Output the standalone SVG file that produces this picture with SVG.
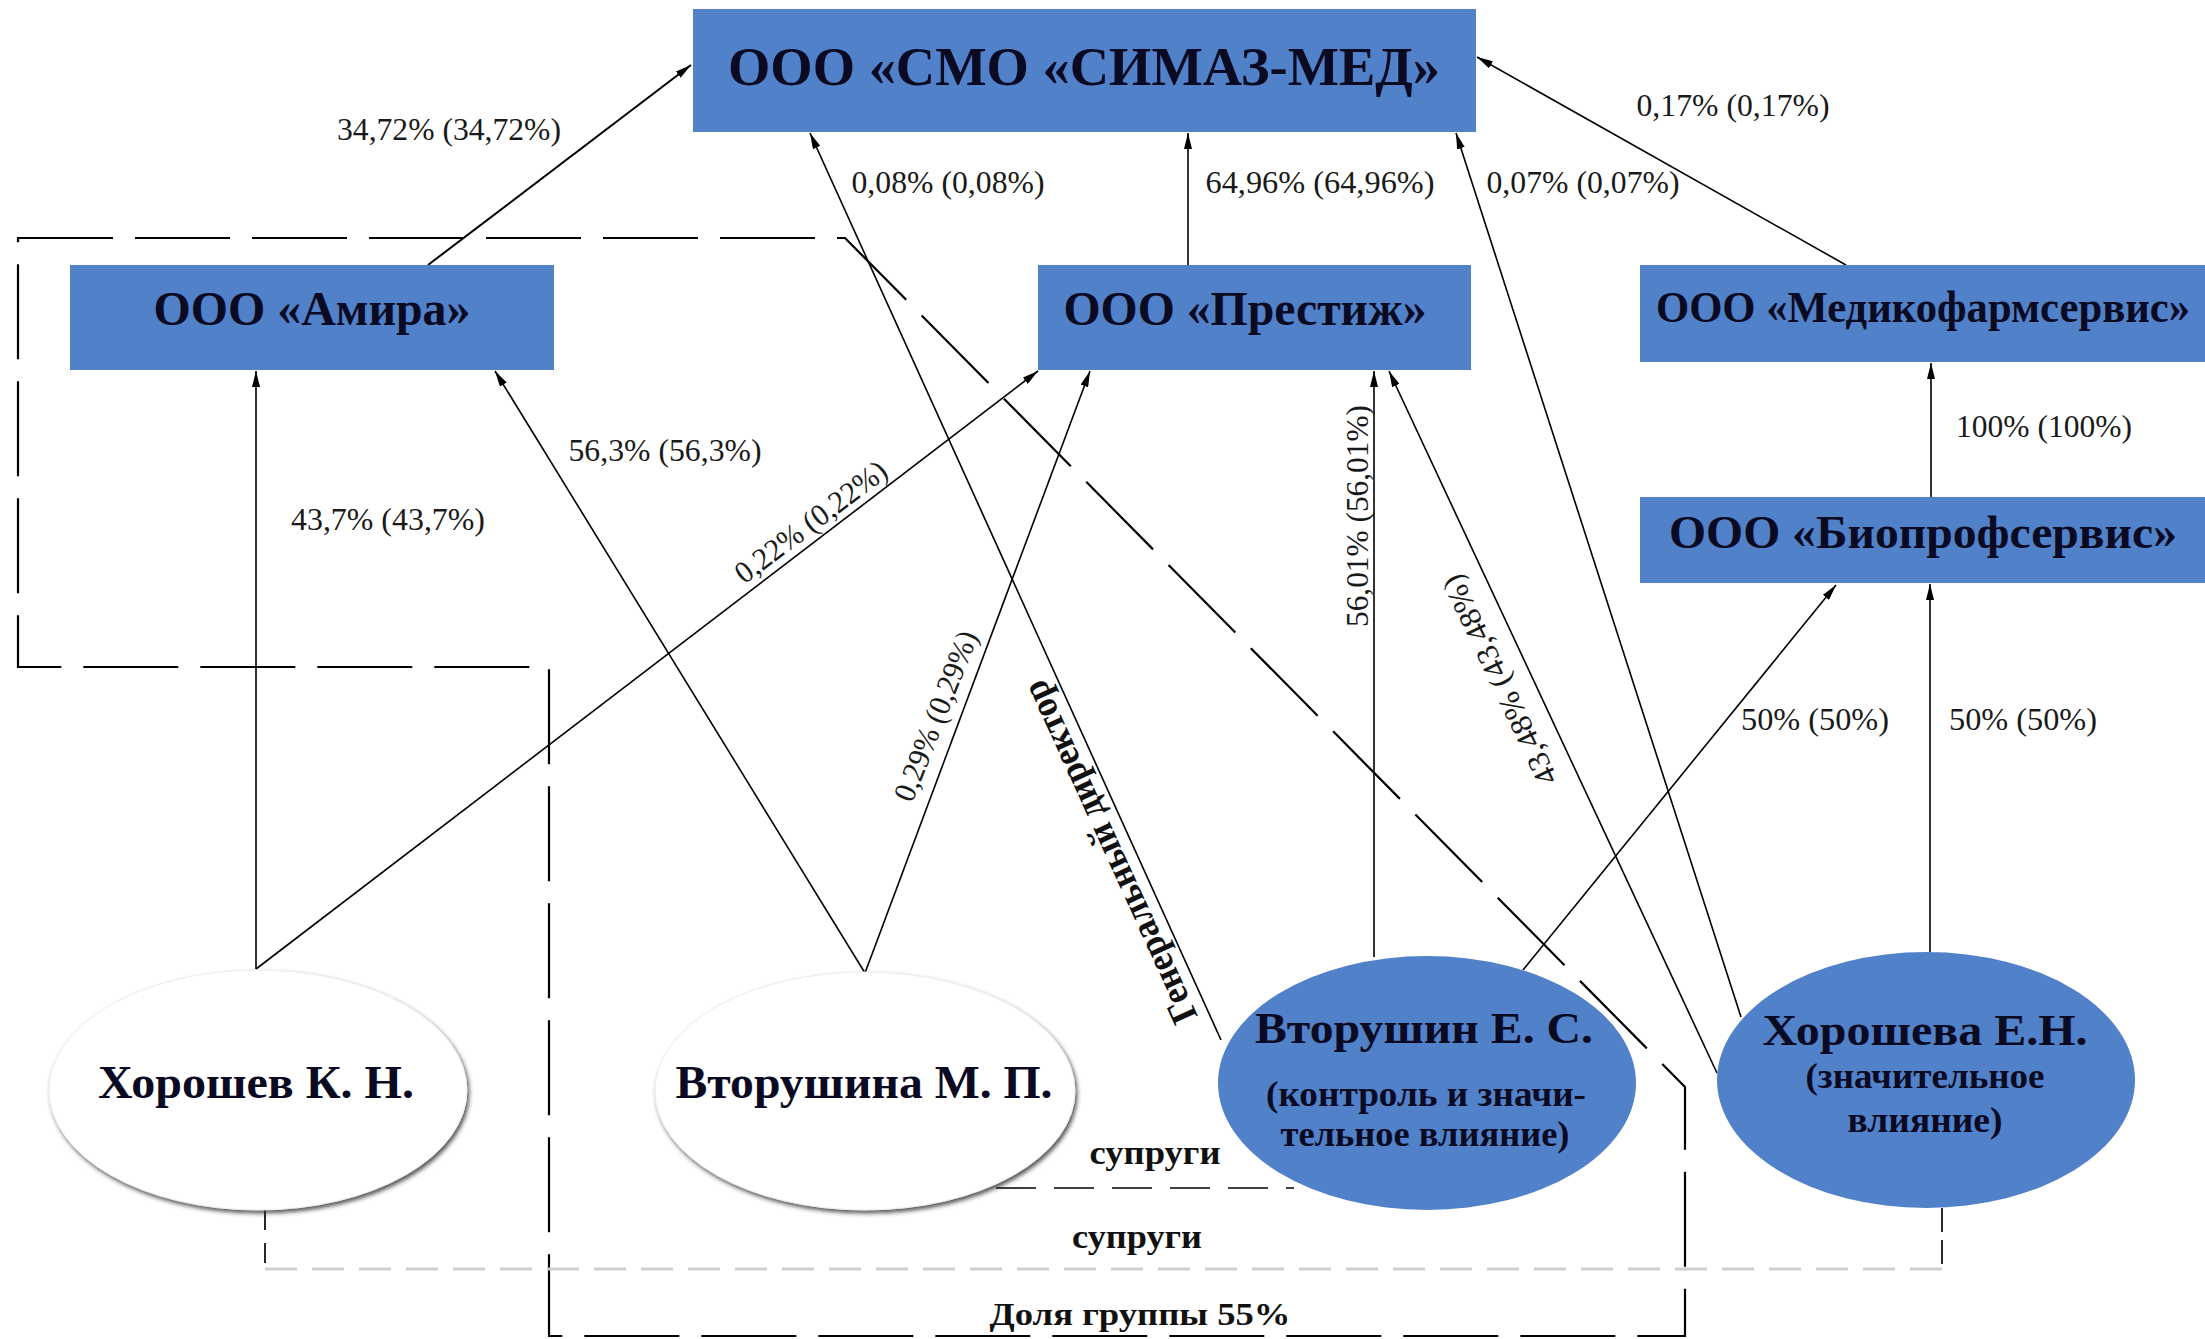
<svg xmlns="http://www.w3.org/2000/svg" width="2205" height="1339" viewBox="0 0 2205 1339">
<style>
.box{fill:#5181c9}
.bt{font-family:"Liberation Serif","Times New Roman",serif;font-weight:bold;fill:#0a0a22;text-anchor:middle}
.pt{font-family:"Liberation Serif","Times New Roman",serif;font-weight:bold;fill:#0a0a22;text-anchor:middle}
.lb{font-family:"Liberation Serif","Times New Roman",serif;fill:#1a1a1a;text-anchor:middle;font-size:31px}
.bl{font-family:"Liberation Serif","Times New Roman",serif;font-weight:bold;fill:#111;text-anchor:middle}
.ln{stroke:#000;stroke-width:1.6;fill:none}
.ar{marker-end:url(#ah)}
</style>
<defs>
<marker id="ah" markerUnits="userSpaceOnUse" viewBox="0 0 16 8" markerWidth="16" markerHeight="8" refX="16" refY="4" orient="auto">
<path d="M0,0 L16,4 L0,8 z" fill="#000"/>
</marker>
<filter id="sh" x="-10%" y="-10%" width="125%" height="130%">
<feDropShadow dx="2" dy="3" stdDeviation="2" flood-color="#333" flood-opacity="0.8"/>
</filter>
</defs>
<rect width="2205" height="1339" fill="#fff"/>

<g id="group-frame">
<path d="M18,238 H845 L1685,1087 V1336 H549 V667 H18 Z" fill="none" stroke="#000" stroke-width="2.2" stroke-dasharray="95 22"/>
</g>

<g id="connectors">
<line class="ln ar" x1="428" y1="265" x2="691" y2="65" style="stroke-width:2"/>
<line class="ln ar" x1="256" y1="969" x2="256" y2="371"/>
<line class="ln ar" x1="865" y1="973" x2="495" y2="371"/>
<line class="ln ar" x1="256" y1="969" x2="1038" y2="371"/>
<line class="ln ar" x1="865" y1="973" x2="1090" y2="371"/>
<line class="ln ar" x1="1221" y1="1040" x2="810" y2="133"/>
<line class="ln ar" x1="1374" y1="957" x2="1374" y2="371"/>
<line class="ln ar" x1="1717" y1="1073" x2="1389" y2="371"/>
<line class="ln ar" x1="1741" y1="1017" x2="1456" y2="133"/>
<line class="ln ar" x1="1523" y1="970" x2="1836" y2="585"/>
<line class="ln ar" x1="1930" y1="952" x2="1930" y2="584"/>
<line class="ln ar" x1="1931" y1="497" x2="1931" y2="363"/>
<line class="ln ar" x1="1846" y1="265" x2="1477" y2="57"/>
<line class="ln ar" x1="1188" y1="265" x2="1188" y2="133"/>
<line x1="996" y1="1188" x2="1294" y2="1188" stroke="#000" stroke-width="1.6" stroke-dasharray="40 18"/>
<path d="M265,1210 V1269" stroke="#111" stroke-width="1.8" stroke-dasharray="20 13" fill="none"/>
<path d="M265,1269 H1942" stroke="#cfcfcf" stroke-width="3" stroke-dasharray="32 15" fill="none"/>
<path d="M1942,1208 V1269" stroke="#111" stroke-width="1.8" stroke-dasharray="24 8" fill="none"/>
</g>

<g id="labels">
<text class="lb" x="449" y="140" textLength="224" lengthAdjust="spacingAndGlyphs">34,72% (34,72%)</text>
<text class="lb" x="948" y="193" textLength="193" lengthAdjust="spacingAndGlyphs">0,08% (0,08%)</text>
<text class="lb" x="1320" y="193" textLength="229" lengthAdjust="spacingAndGlyphs">64,96% (64,96%)</text>
<text class="lb" x="1583" y="193" textLength="193" lengthAdjust="spacingAndGlyphs">0,07% (0,07%)</text>
<text class="lb" x="1733" y="116" textLength="193" lengthAdjust="spacingAndGlyphs">0,17% (0,17%)</text>
<text class="lb" x="2044" y="437" textLength="176" lengthAdjust="spacingAndGlyphs">100% (100%)</text>
<text class="lb" x="665" y="461" textLength="193" lengthAdjust="spacingAndGlyphs">56,3% (56,3%)</text>
<text class="lb" x="388" y="530" textLength="194" lengthAdjust="spacingAndGlyphs">43,7% (43,7%)</text>
<text class="lb" x="1815" y="730" textLength="148" lengthAdjust="spacingAndGlyphs">50% (50%)</text>
<text class="lb" x="2023" y="730" textLength="148" lengthAdjust="spacingAndGlyphs">50% (50%)</text>
<text class="lb" x="811" y="532" transform="rotate(-37 811 522)" textLength="182" lengthAdjust="spacingAndGlyphs">0,22% (0,22%)</text>
<text class="lb" x="936" y="726" transform="rotate(-68.5 936 716)" textLength="180" lengthAdjust="spacingAndGlyphs">0,29% (0,29%)</text>
<text class="lb" x="1357" y="527" transform="rotate(-90 1357 516)" textLength="222" lengthAdjust="spacingAndGlyphs" style="font-size:32px">56,01% (56,01%)</text>
<text class="lb" x="1500" y="690" transform="rotate(-115.5 1500 680)" textLength="229" lengthAdjust="spacingAndGlyphs">43,48% (43,48%)</text>
<text class="bl" x="1110" y="864" transform="rotate(-114.5 1110 852)" textLength="372" lengthAdjust="spacingAndGlyphs" style="font-size:38px">Генеральный директор</text>
<text class="bl" x="1155" y="1164" textLength="131" lengthAdjust="spacingAndGlyphs" style="font-size:34px">супруги</text>
<text class="bl" x="1137" y="1248" textLength="130" lengthAdjust="spacingAndGlyphs" style="font-size:34px">супруги</text>
<text class="bl" x="1140" y="1325" textLength="301" lengthAdjust="spacingAndGlyphs" style="font-size:31px">Доля группы 55%</text>
</g>

<g id="node-simaz">
<rect class="box" x="693" y="9" width="783" height="123"/>
<text class="bt" x="1084" y="85" font-size="54" textLength="712" lengthAdjust="spacingAndGlyphs">ООО «СМО «СИМАЗ-МЕД»</text>
</g>
<g id="node-amira">
<rect class="box" x="70" y="265" width="484" height="105"/>
<text class="bt" x="312" y="325" font-size="48" textLength="317" lengthAdjust="spacingAndGlyphs">ООО «Амира»</text>
</g>
<g id="node-prestizh">
<rect class="box" x="1038" y="265" width="433" height="105"/>
<text class="bt" x="1245" y="325" font-size="48" textLength="363" lengthAdjust="spacingAndGlyphs">ООО «Престиж»</text>
</g>
<g id="node-medikofarmservis">
<rect class="box" x="1640" y="265" width="565" height="97"/>
<text class="bt" x="1923" y="322" font-size="44" textLength="534" lengthAdjust="spacingAndGlyphs">ООО «Медикофармсервис»</text>
</g>
<g id="node-bioprofservis">
<rect class="box" x="1640" y="497" width="565" height="86"/>
<text class="bt" x="1923" y="548" font-size="46" textLength="508" lengthAdjust="spacingAndGlyphs">ООО «Биопрофсервис»</text>
</g>

<g id="node-khoroshev">
<ellipse cx="258" cy="1090" rx="209" ry="120" fill="#fff" stroke="#ececec" stroke-width="1" filter="url(#sh)"/>
<text class="pt" x="256" y="1098" font-size="46" textLength="316" lengthAdjust="spacingAndGlyphs">Хорошев К. Н.</text>
</g>
<g id="node-vtorushina">
<ellipse cx="865" cy="1091" rx="210" ry="119" fill="#fff" stroke="#ececec" stroke-width="1" filter="url(#sh)"/>
<text class="pt" x="864" y="1098" font-size="46" textLength="377" lengthAdjust="spacingAndGlyphs">Вторушина М. П.</text>
</g>
<g id="node-vtorushin">
<ellipse cx="1427" cy="1083" rx="209" ry="127" fill="#5181c9"/>
<text class="pt" x="1424" y="1043" font-size="45" textLength="338" lengthAdjust="spacingAndGlyphs">Вторушин Е. С.</text>
<text class="pt" x="1426" y="1106" font-size="35" textLength="320" lengthAdjust="spacingAndGlyphs">(контроль и значи-</text>
<text class="pt" x="1425" y="1146" font-size="35" textLength="289" lengthAdjust="spacingAndGlyphs">тельное влияние)</text>
</g>
<g id="node-khorosheva">
<ellipse cx="1926" cy="1080" rx="209" ry="128" fill="#5181c9"/>
<text class="pt" x="1925" y="1045" font-size="45" textLength="325" lengthAdjust="spacingAndGlyphs">Хорошева Е.Н.</text>
<text class="pt" x="1925" y="1088" font-size="35" textLength="239" lengthAdjust="spacingAndGlyphs">(значительное</text>
<text class="pt" x="1925" y="1132" font-size="35" textLength="155" lengthAdjust="spacingAndGlyphs">влияние)</text>
</g>
</svg>
